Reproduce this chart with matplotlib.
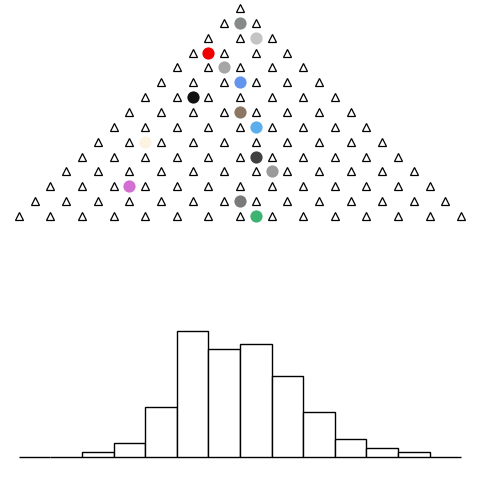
import matplotlib
matplotlib.use("Agg")
import matplotlib.pyplot as plt
import numpy as np

# Galton board: 15 rows of pegs
n_rows = 15
# ball positions (horizontal slot index) on rows 1..14
ball_rows = [1, 2, 3, 4, 5, 6, 7, 8, 9, 10, 11, 12, 13, 14]
ball_x = [0, 1, -2, -1, 0, -3, 0, 1, -6, 1, 2, -7, 0, 1]
ball_colors = ['#878b88', '#c4c4c4', '#ee0000', '#a6a6a6', '#6495ed', '#111111',
               '#8b7763', '#5aaeee', '#fdf3e3', '#404040', '#9a9a9a', '#d36fd3',
               '#7a7a7a', '#3cb371']

# histogram of landed balls
bin_edges = [-14, -12, -10, -8, -6, -4, -2, 0, 2, 4, 6, 8, 10, 12, 14]
counts = [0, 0, 1, 3, 11, 28, 24, 25, 18, 10, 4, 2, 1, 0]

fig = plt.figure(figsize=(4.8, 4.8), dpi=100)

half = 14 + 18.8 / 15.8
# top: board
ax1 = fig.add_axes([0, 0.5, 1, 0.5])
for k in range(n_rows):
    xs = [2 * j - k for j in range(k + 1)]
    ax1.plot(xs, [-k] * len(xs), linestyle='none', marker='^', markersize=6,
             markerfacecolor='white', markeredgecolor='black', markeredgewidth=0.9)
for r, x, c in zip(ball_rows, ball_x, ball_colors):
    ax1.plot([x], [-r], linestyle='none', marker='o', markersize=8.8,
             markerfacecolor=c, markeredgecolor='none')
ax1.set_xlim(-half, half)
ax1.set_ylim(-(240 - 8) / 14.86, 8 / 14.86)
ax1.axis('off')

# bottom: histogram
ax2 = fig.add_axes([0, 0, 1, 0.5])
edges = np.array(bin_edges, dtype=float)
centers = (edges[:-1] + edges[1:]) / 2
ax2.bar(centers, counts, width=np.diff(edges), facecolor='white',
        edgecolor='black', linewidth=1.0)
unit = 4.49
ax2.set_xlim(-half, half)
ax2.set_ylim(-23.3 / unit, (456.7 - 240) / unit)
ax2.axis('off')

fig.savefig('out.png', dpi=100)
